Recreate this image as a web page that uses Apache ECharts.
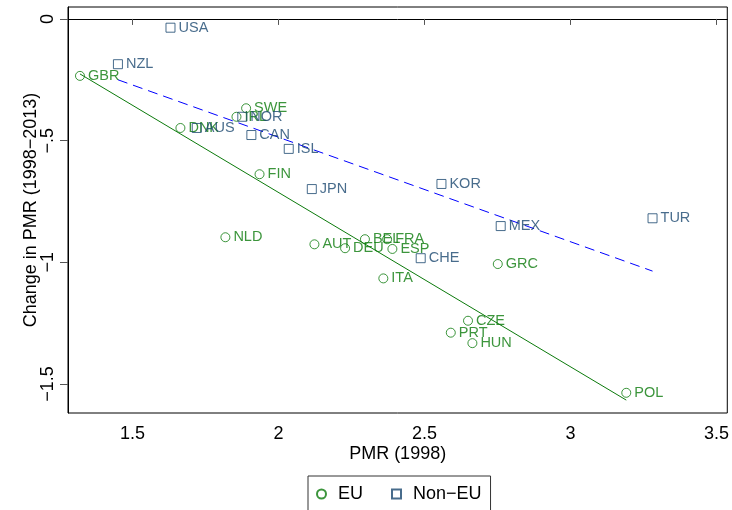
<!DOCTYPE html>
<html>
<head>
<meta charset="utf-8">
<script src="https://cdn.jsdelivr.net/npm/echarts@6/dist/echarts.min.js"></script>
<style>
html,body{margin:0;padding:0;background:#fff;}
#chart{width:732px;height:510px;}
</style>
</head>
<body>
<div id="chart"></div>
<script>
// ---- Data ----
const euNames = ['GBR','DNK','SWE','IRL','FIN','NLD','AUT','DEU','BEL','FRA','ESP','ITA','CZE','PRT','HUN','GRC','POL'];
const euX     = [1.320,1.664,1.889,1.856,1.935,1.818,2.123,2.228,2.296,2.372,2.390,2.359,2.649,2.590,2.664,2.751,3.191];
const euY     = [-0.234,-0.448,-0.367,-0.402,-0.638,-0.897,-0.926,-0.942,-0.905,-0.905,-0.945,-1.066,-1.240,-1.289,-1.332,-1.007,-1.536];

const nonEuNames = ['USA','NZL','AUS','NOR','CAN','ISL','JPN','KOR','CHE','MEX','TUR'];
const nonEuX     = [1.630,1.450,1.720,1.876,1.907,2.035,2.114,2.558,2.487,2.761,3.281];
const nonEuY     = [-0.036,-0.186,-0.448,-0.402,-0.477,-0.534,-0.699,-0.678,-0.983,-0.851,-0.819];

// fitted lines (endpoints)
const fitEuX    = [1.320, 3.191];
const fitEuY    = [-0.226, -1.566];
const fitNonEuX = [1.450, 3.281];
const fitNonEuY = [-0.250, -1.036];

// axes
const xTicks = [1.5, 2, 2.5, 3, 3.5];
const xTickLabels = ['1.5', '2', '2.5', '3', '3.5'];
const yTicks = [0, -0.5, -1, -1.5];
const yTickLabels = ['0', '\u2212.5', '\u22121', '\u22121.5'];
const xRange = [1.279, 3.537];
const yRange = [-1.619, 0.049];

const seriesNames = ['EU', 'Non\u2212EU'];
const xTitle = 'PMR (1998)';
const yTitle = 'Change in PMR (1998\u22122013)';

// ---- Styles ----
const FONT = '"Liberation Sans", Arial, Helvetica, sans-serif';
const GREEN = '#0b7a0b';
const NAVY = '#1a476f';
const BLUE = '#0000ff';

function pts(xs, ys, names) {
  return xs.map((x, i) => ({ name: names ? names[i] : '', value: [x, ys[i]] }));
}
function lookup(vals, labels, v) {
  for (let i = 0; i < vals.length; i++) if (Math.abs(vals[i] - v) < 1e-9) return labels[i];
  return '';
}

const chart = echarts.init(document.getElementById('chart'), null, { renderer: 'canvas' });

const option = {
  backgroundColor: '#fff',
  animation: false,
  textStyle: { fontFamily: FONT },
  grid: { left: 68, right: 3, top: 7, bottom: 97, show: true, borderColor: '#000', borderWidth: 1, backgroundColor: 'transparent' },
  xAxis: {
    type: 'value', min: xRange[0], max: xRange[1],
    name: xTitle, nameLocation: 'middle', nameGap: 32, nameMoveOverlap: false,
    nameTextStyle: { fontSize: 18, color: '#000', fontFamily: FONT },
    axisLine: { show: true, lineStyle: { color: '#000', width: 1 } },
    axisTick: { show: true, customValues: xTicks, length: 6, inside: false, lineStyle: { color: '#555', width: 1 } },
    axisLabel: { customValues: xTicks, margin: 12, fontSize: 18, color: '#000', fontFamily: FONT,
      formatter: v => lookup(xTicks, xTickLabels, v) },
    splitLine: { show: false }
  },
  yAxis: {
    type: 'value', min: yRange[0], max: yRange[1],
    name: yTitle, nameLocation: 'middle', nameGap: 28, nameRotate: 90, nameMoveOverlap: false,
    nameTextStyle: { fontSize: 18, color: '#000', fontFamily: FONT },
    axisLine: { show: true, lineStyle: { color: '#000', width: 1 } },
    axisTick: { show: true, customValues: yTicks, length: 8, inside: false, lineStyle: { color: '#555', width: 1 } },
    axisLabel: { customValues: yTicks, margin: 11, rotate: 90, fontSize: 18, color: '#000', fontFamily: FONT,
      formatter: v => lookup(yTicks, yTickLabels, v) },
    splitLine: { show: false }
  },
  legend: {
    data: seriesNames,
    left: 308, top: 476,
    orient: 'horizontal',
    padding: [8, 9, 8, 8],
    itemWidth: 9, itemHeight: 9, itemGap: 28,
    symbolKeepAspect: true,
    borderColor: '#333', borderWidth: 1, borderRadius: 0,
    backgroundColor: '#fff',
    textStyle: { fontSize: 18, color: '#000', fontFamily: FONT, lineHeight: 20, padding: [0, 0, 0, 7] }
  },
  series: [
    {
      name: 'EU fit', type: 'line', data: pts(fitEuX, fitEuY), symbol: 'none',
      lineStyle: { color: GREEN, width: 1 }, itemStyle: { color: GREEN }, z: 1, silent: true
    },
    {
      name: 'Non-EU fit', type: 'line', data: pts(fitNonEuX, fitNonEuY), symbol: 'none',
      lineStyle: { color: BLUE, width: 1, type: [10, 6] }, itemStyle: { color: BLUE }, z: 1, silent: true
    },
    {
      name: seriesNames[0], type: 'scatter', data: pts(euX, euY, euNames),
      symbol: 'circle', symbolSize: 9,
      itemStyle: { color: 'rgba(255,255,255,0)', borderColor: GREEN, borderWidth: 1 },
      label: { show: true, position: 'right', distance: 3, formatter: '{b}', fontSize: 14.5, color: GREEN, fontFamily: FONT },
      z: 2
    },
    {
      name: seriesNames[1], type: 'scatter', data: pts(nonEuX, nonEuY, nonEuNames),
      symbol: 'rect', symbolSize: 9,
      itemStyle: { color: 'rgba(255,255,255,0)', borderColor: NAVY, borderWidth: 1 },
      label: { show: true, position: 'right', distance: 3, formatter: '{b}', fontSize: 14.5, color: NAVY, fontFamily: FONT },
      z: 3
    }
  ]
};
chart.setOption(option);
</script>
</body>
</html>
